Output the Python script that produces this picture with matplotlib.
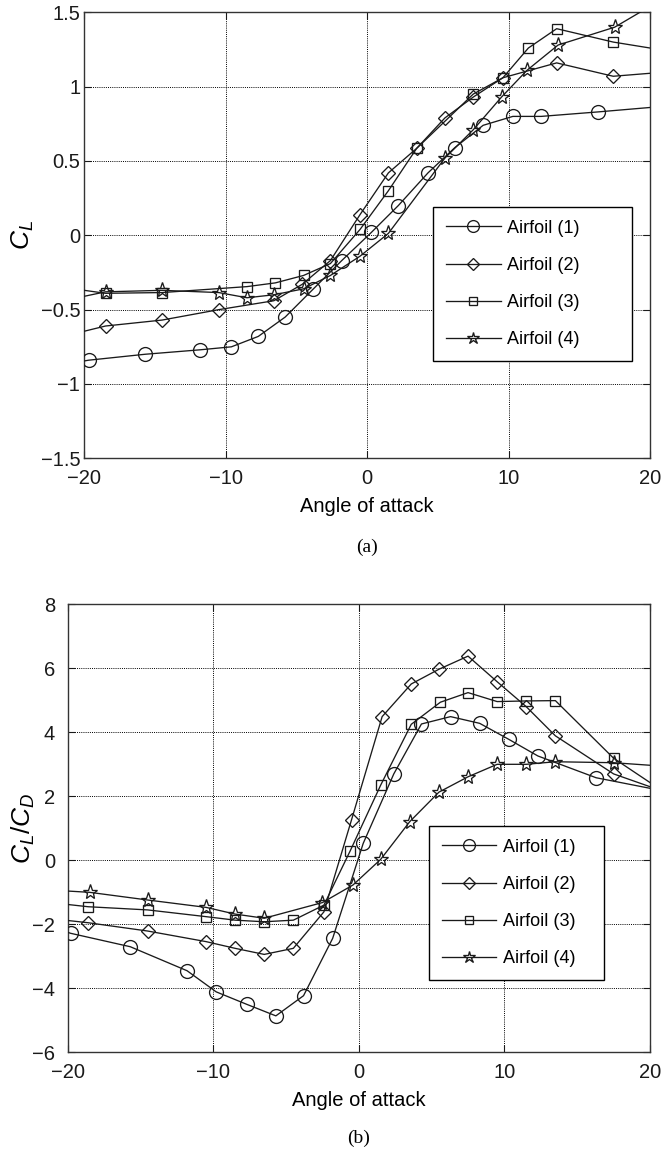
"""
Airfoil comparison: lift coefficient (a) and lift/drag ratio (b) vs angle of attack
"""
import matplotlib
matplotlib.use("Agg")
import matplotlib.pyplot as plt
from matplotlib.ticker import FuncFormatter

plt.rcParams["font.family"] = ["Liberation Sans", "DejaVu Sans"]
plt.rcParams["mathtext.fontset"] = "custom"
plt.rcParams["mathtext.rm"] = "Liberation Sans"
plt.rcParams["mathtext.it"] = "Liberation Sans:italic"

LABELS = ["Airfoil (1)", "Airfoil (2)", "Airfoil (3)", "Airfoil (4)"]
MARKERS = ["o", "D", "s", "*"]
MSIZE = [10, 7.5, 6.5, 11]

# ── (a) C_L: marker points, plus where each line meets x=-20 / x=20 ───────────
a1_x = [-19.7, -15.7, -11.8, -9.6, -7.7, -5.8, -3.8, -1.8, 0.3, 2.2, 4.3, 6.2, 8.2, 10.3, 12.3, 16.3]
a1_y = [-0.84, -0.80, -0.77, -0.75, -0.68, -0.55, -0.36, -0.17, 0.02, 0.20, 0.42, 0.59, 0.74, 0.80, 0.80, 0.83]
a1_ends = [-0.845, 0.86]

a2_x = [-18.5, -14.5, -10.5, -6.6, -4.6, -2.6, -0.5, 1.5, 3.5, 5.5, 7.5, 9.6, 13.4, 17.4]
a2_y = [-0.61, -0.57, -0.50, -0.44, -0.33, -0.17, 0.14, 0.42, 0.585, 0.79, 0.93, 1.06, 1.16, 1.07]
a2_ends = [-0.645, 1.09]

a3_x = [-18.5, -14.5, -8.5, -6.5, -4.5, -2.6, -0.5, 1.5, 3.5, 7.5, 9.6, 11.4, 13.4, 17.4]
a3_y = [-0.39, -0.385, -0.345, -0.32, -0.27, -0.19, 0.04, 0.30, 0.585, 0.95, 1.06, 1.26, 1.39, 1.30]
a3_ends = [-0.37, 1.26]

a4_x = [-18.5, -14.5, -10.5, -8.5, -6.6, -4.5, -2.6, -0.5, 1.5, 5.5, 7.5, 9.5, 11.3, 13.5, 17.5]
a4_y = [-0.38, -0.37, -0.385, -0.42, -0.40, -0.36, -0.27, -0.14, 0.013, 0.52, 0.71, 0.93, 1.11, 1.28, 1.40]
a4_ends = [-0.41, 1.54]

# ── (b) C_L/C_D ───────────────────────────────────────────────────────────────
b1_x = [-19.8, -15.7, -11.8, -9.8, -7.7, -5.7, -3.8, -1.8, 0.3, 2.4, 4.3, 6.3, 8.3, 10.3, 12.3, 16.3]
b1_y = [-2.28, -2.70, -3.45, -4.11, -4.50, -4.86, -4.23, -2.44, 0.53, 2.70, 4.26, 4.49, 4.28, 3.78, 3.26, 2.58]
b1_ends = [-2.25, 2.25]

b2_x = [-18.6, -14.5, -10.5, -8.5, -6.5, -4.5, -2.4, -0.5, 1.6, 3.6, 5.5, 7.5, 9.5, 11.5, 13.5, 17.5]
b2_y = [-1.95, -2.21, -2.54, -2.75, -2.94, -2.75, -1.61, 1.27, 4.49, 5.51, 5.97, 6.38, 5.58, 4.80, 3.89, 2.70]
b2_ends = [-1.88, 2.30]

b3_x = [-18.6, -14.5, -10.5, -8.5, -6.5, -4.5, -2.4, -0.6, 1.5, 3.6, 5.6, 7.5, 9.5, 11.5, 13.5, 17.5]
b3_y = [-1.45, -1.55, -1.76, -1.87, -1.92, -1.87, -1.40, 0.29, 2.35, 4.25, 4.94, 5.24, 4.96, 4.98, 4.99, 3.19]
b3_ends = [-1.38, 2.43]

b4_x = [-18.5, -14.5, -10.5, -8.5, -6.5, -2.5, -0.4, 1.5, 3.5, 5.5, 7.5, 9.5, 11.5, 13.5, 17.5]
b4_y = [-1.00, -1.24, -1.47, -1.68, -1.81, -1.32, -0.77, 0.03, 1.21, 2.13, 2.61, 3.00, 3.00, 3.08, 3.05]
b4_ends = [-0.96, 2.97]

X_LIM = (-20, 20)
X_TICKS = [-20, -10, 0, 10, 20]
A_TICKS = [-1.5, -1, -0.5, 0, 0.5, 1, 1.5]
B_TICKS = [-6, -4, -2, 0, 2, 4, 6, 8]

INK = "#1a1a1a"


def fmt(v, _pos):
    return f"{v:g}".replace("-", "\u2212")


def draw(ax, series, ylim, yticks, ylabel, label_x, ypad, leg_anchor):
    for (xs, ys, ends), lab, mk, ms in zip(series, LABELS, MARKERS, MSIZE):
        lx = [X_LIM[0]] + xs + [X_LIM[1]]
        ly = [ends[0]] + ys + [ends[1]]
        ax.plot(lx, ly, color=INK, lw=0.95, zorder=3)
        ax.plot(xs, ys, ls="none", marker=mk, ms=ms, mfc="none", mec=INK, mew=0.95, zorder=4)
        # legend proxy: line with a single marker in the middle
        ax.plot([], [], color=INK, lw=0.95, marker=mk, ms=ms * 0.85, mfc="none", mec=INK,
                mew=0.95, label=lab)
    ax.set_xlim(*X_LIM)
    ax.set_ylim(*ylim)
    ax.set_xticks(X_TICKS)
    ax.set_yticks(yticks)
    ax.xaxis.set_major_formatter(FuncFormatter(fmt))
    ax.yaxis.set_major_formatter(FuncFormatter(fmt))
    ax.tick_params(direction="in", length=5, width=0.8, top=True, right=True,
                   labelsize=14.5, colors=INK)
    ax.tick_params(axis="x", pad=8)
    ax.tick_params(axis="y", pad=ypad)
    ax.grid(True, color="black", ls=(0, (1, 1.2)), lw=0.7)
    for sp in ax.spines.values():
        sp.set_color("#333333")
        sp.set_linewidth(1.0)
    ax.set_xlabel("Angle of attack", fontsize=14.5, labelpad=6.5)
    ax.set_ylabel(ylabel, fontsize=19)
    ax.yaxis.set_label_coords(label_x, 0.5)
    leg = ax.legend(loc="upper left", bbox_to_anchor=leg_anchor, mode="expand",
                    borderaxespad=0, fontsize=13, numpoints=1, handlelength=3.0,
                    handletextpad=0.35, labelspacing=1.12, borderpad=0.72,
                    fancybox=False, framealpha=1, edgecolor="black")
    leg.get_frame().set_linewidth(1.0)
    leg.set_zorder(10)


fig = plt.figure(figsize=(6.63, 11.53), dpi=100)
ax_a = fig.add_axes([0.1272, 0.6025, 0.8532, 0.3868])
ax_b = fig.add_axes([0.1021, 0.0873, 0.8783, 0.3886])

draw(ax_a,
     [(a1_x, a1_y, a1_ends), (a2_x, a2_y, a2_ends), (a3_x, a3_y, a3_ends), (a4_x, a4_y, a4_ends)],
     (-1.5, 1.5), A_TICKS, "$C_L$", -0.0855, 3, (0.617, 0.564, 0.351, 0.0))
draw(ax_b,
     [(b1_x, b1_y, b1_ends), (b2_x, b2_y, b2_ends), (b3_x, b3_y, b3_ends), (b4_x, b4_y, b4_ends)],
     (-6, 8), B_TICKS, "$C_L/C_D$", -0.053, 9, (0.6205, 0.5058, 0.301, 0.0))

fig.text(367 / 663, 1 - 547 / 1153, "(a)", ha="center", va="center",
         fontsize=14, family=["Liberation Serif", "DejaVu Serif"])
fig.text(359 / 663, 1 - 1138 / 1153, "(b)", ha="center", va="center",
         fontsize=14, family=["Liberation Serif", "DejaVu Serif"])

fig.savefig("out.png", dpi=100)
